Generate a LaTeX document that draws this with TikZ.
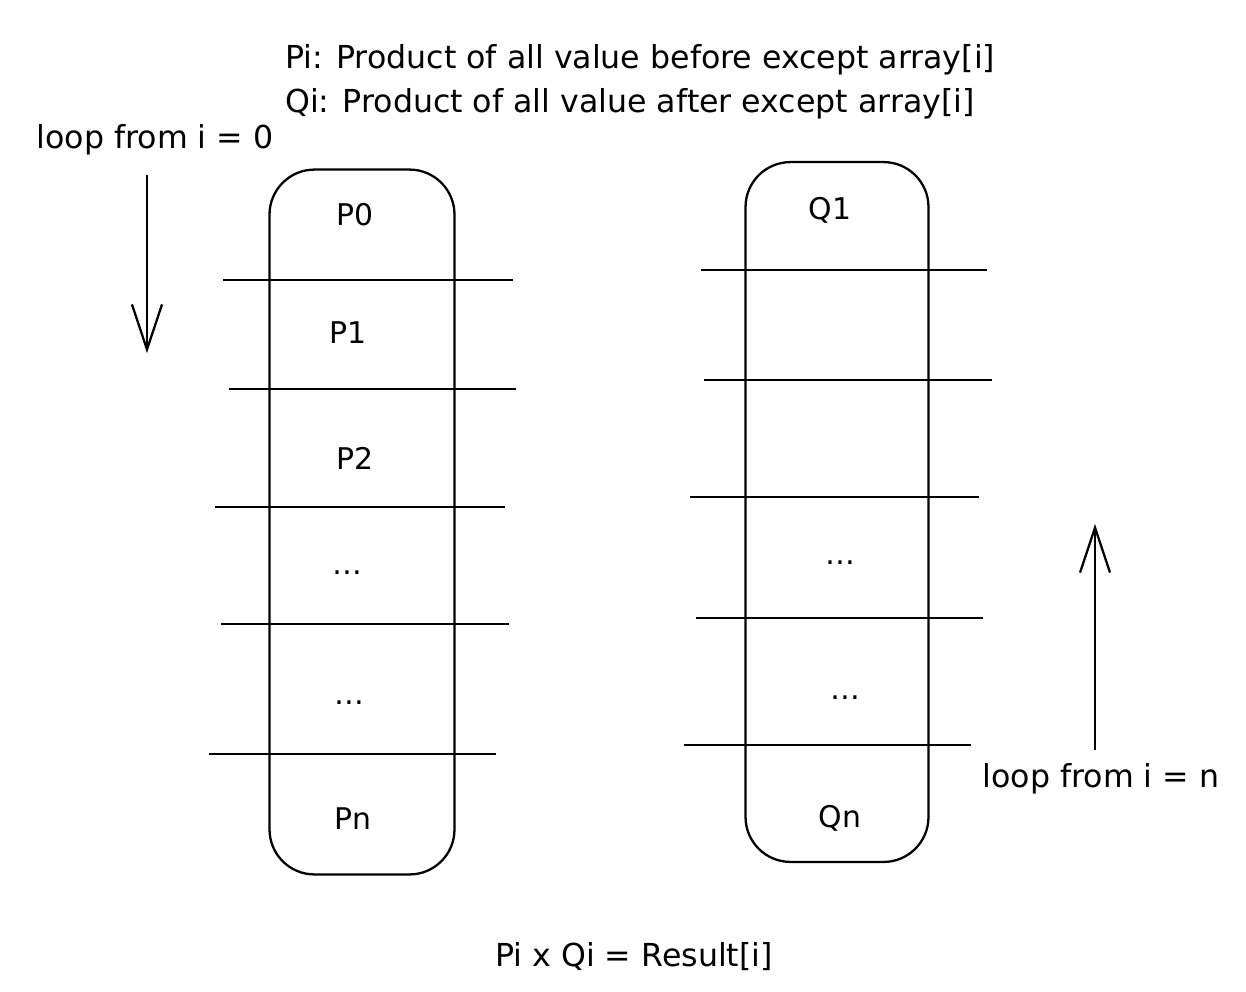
\documentclass[tikz,border=0pt]{standalone}
\usepackage{fontspec}
\setmainfont{DejaVu Sans}
\usetikzlibrary{arrows.meta,positioning}
\tikzset{
  colbox/.style={rectangle,rounded corners=0.9cm,draw,line width=1.3pt,
                 minimum width=3.7cm,minimum height=14.1cm,inner sep=0pt},
  cell/.style={font=\fontsize{17}{20}\selectfont,inner sep=1pt},
  note/.style={font=\fontsize{18}{21}\selectfont,inner sep=1pt},
  sep/.style={line width=1.3pt},
  looparr/.style={-{Straight Barb[length=9mm,width=6mm,line width=1.3pt]},line width=1.3pt},
}
\begin{document}
\begin{tikzpicture}[x=0.02cm,y=-0.02cm]
  \useasboundingbox (0,0) rectangle (1246,991);
  % headings
  \node[note,anchor=west] (pdef) at (283,60) {Pi: Product of all value before except array[i]};
  \node[note,anchor=west] (qdef) at (283,104) {Qi: Product of all value after except array[i]};
  % the two columns
  \node[colbox] (pcol) at (362,522) {};
  \node[colbox,minimum width=3.66cm,minimum height=14cm] (qcol) at (837,512) {};
  \foreach \a/\b/\y in {223/513/280, 229/516/389, 215/505/507, 221/509/624, 209/496/754}
    \draw[sep] (\a,\y) -- (\b,\y);
  \foreach \a/\b/\y in {701/987/270, 704/992/380, 690/979/497, 696/983/618, 684/971/745}
    \draw[sep] (\a,\y) -- (\b,\y);
  \foreach \n/\x/\y/\t in {p0/355/215/P0, p1/348/333/P1, p2/355/458/P2,
                            p3/347/573/\dots, p4/349/703/\dots, pn/353/819/Pn}
    \node[cell] (\n) at (\x,\y) {\t};
  \foreach \n/\x/\y/\t in {q1/830/210/Q1, q3/840/563/\dots, q4/845/698/\dots, qn/840/818/Qn}
    \node[cell] (\n) at (\x,\y) {\t};
  % loop directions
  \node[note] (loopp) at (155,140) {loop from i = 0};
  \coordinate (pstart) at (147,175);
  \coordinate (pend) at (147,353);
  \draw[looparr] (pstart) -- (pend);
  \node[note] (loopq) at (1101,779) {loop from i = n};
  \coordinate (qstart) at (1095,750);
  \coordinate (qend) at (1095,524);
  \draw[looparr] (qstart) -- (qend);
  % result
  \node[note] (res) at (634,957) {Pi x Qi = Result[i]};
\end{tikzpicture}
\end{document}
